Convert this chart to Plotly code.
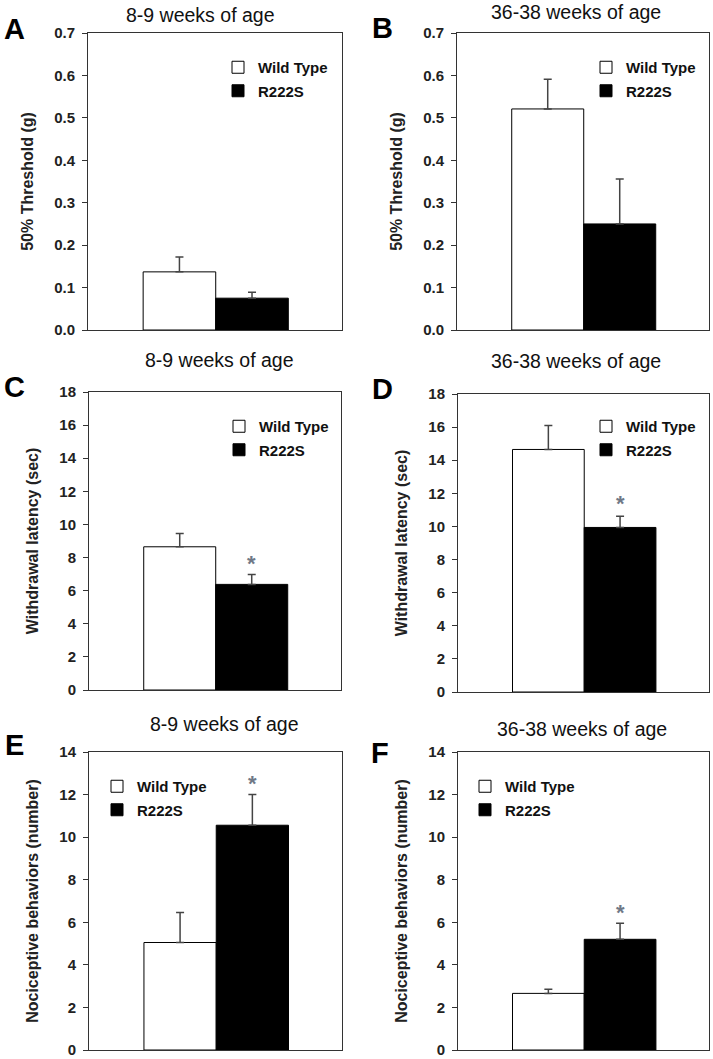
import plotly.graph_objects as go

W, H = 713, 1059
FONT = "Arial, Liberation Sans, sans-serif"

# ---- data ----
groups = ["Wild Type", "R222S"]
panel_letters = ["A", "B", "C", "D", "E", "F"]
titles = ["8-9 weeks of age", "36-38 weeks of age",
          "8-9 weeks of age", "36-38 weeks of age",
          "8-9 weeks of age", "36-38 weeks of age"]
ylabels = ["50% Threshold (g)", "50% Threshold (g)",
           "Withdrawal latency (sec)", "Withdrawal latency (sec)",
           "Nociceptive behaviors (number)", "Nociceptive behaviors (number)"]
wt_mean = [0.137, 0.521, 8.65, 14.65, 5.05, 2.66]
wt_sem = [0.035, 0.070, 0.81, 1.45, 1.41, 0.19]
mut_mean = [0.075, 0.250, 6.38, 9.94, 10.56, 5.20]
mut_sem = [0.014, 0.106, 0.60, 0.68, 1.44, 0.75]
y_max = [0.7, 0.7, 18, 18, 14, 14]
y_dtick = [0.1, 0.1, 2, 2, 2, 2]
y_format = [".1f", ".1f", "d", "d", "d", "d"]
star_y = [None, None, 7.9, 11.6, 12.7, 6.65]

# ---- layout geometry (window pixels) ----
plot_px = [(88, 342, 33, 330), (457, 709, 33, 330),
           (89, 341, 392, 690), (458, 709, 394, 692),
           (89, 342, 752, 1050), (458, 709, 752, 1050)]
legend_px = [(232, 68), (600, 68), (233, 427), (600, 427), (111, 787), (479, 787)]
title_px = [(200, 15), (576, 12), (219, 360), (576, 361), (224, 724), (582, 729)]
letter_px = [(14, 32), (382, 31), (14, 390), (383, 392), (14, 748), (380, 756)]

def px_x(v):
    return v / W

def px_y(v):
    return 1 - v / H

fig = go.Figure()
annotations = []
layout = {}

for i in range(6):
    n = "" if i == 0 else str(i + 1)
    xa, ya = "x" + n, "y" + n
    leg = "legend" + n
    x0, x1, y0, y1 = plot_px[i]
    fig.add_trace(go.Bar(
        x=[0], y=[wt_mean[i]], width=1, name=groups[0],
        marker=dict(color="white", line=dict(color="black", width=1)),
        error_y=dict(type="data", symmetric=False, array=[wt_sem[i]], arrayminus=[0],
                     color="#444444", thickness=1.5, width=4),
        xaxis=xa, yaxis=ya, legend=leg, legendgroup="wt" + n, showlegend=True))
    fig.add_trace(go.Bar(
        x=[1], y=[mut_mean[i]], width=1, name=groups[1],
        marker=dict(color="black", line=dict(color="black", width=1)),
        error_y=dict(type="data", symmetric=False, array=[mut_sem[i]], arrayminus=[0],
                     color="#444444", thickness=1.5, width=4),
        xaxis=xa, yaxis=ya, legend=leg, legendgroup="mut" + n, showlegend=True))

    layout["xaxis" + n] = dict(
        domain=[px_x(x0), px_x(x1)], anchor=ya, range=[-1.26, 2.24],
        showticklabels=False, ticks="", showgrid=False, zeroline=False, automargin=False,
        showline=True, linecolor="#333333", linewidth=1, mirror=True, fixedrange=True)
    layout["yaxis" + n] = dict(
        domain=[px_y(y1), px_y(y0)], anchor=xa, range=[0, y_max[i]], automargin=False,
        dtick=y_dtick[i], tick0=0, tickformat=y_format[i],
        ticks="outside", ticklen=5, tickcolor="#333333", tickwidth=1,
        ticklabelstandoff=4, fixedrange=True,
        showgrid=False, zeroline=False, showline=True, linecolor="#333333",
        linewidth=1, mirror=True,
        tickfont=dict(family=FONT, size=15, color="#222222", weight="bold"),
        title=dict(text="<b>" + ylabels[i] + "</b>", standoff=16,
                   font=dict(family=FONT, size=16, color="#222222")))
    lx, ly = legend_px[i]
    layout[leg] = dict(
        x=px_x(lx - 14), y=px_y(ly - 17), xanchor="left", yanchor="top",
        bgcolor="rgba(0,0,0,0)", borderwidth=0, traceorder="grouped",
        tracegroupgap=1, itemclick=False, itemdoubleclick=False,
        font=dict(family=FONT, size=15, color="#111111", weight="bold"))

    tx, ty = title_px[i]
    annotations.append(dict(
        xref="paper", yref="paper", x=px_x(tx), y=px_y(ty), text=titles[i],
        showarrow=False, xanchor="center", yanchor="middle",
        font=dict(family=FONT, size=19.5, color="#111111")))
    lx2, ly2 = letter_px[i]
    annotations.append(dict(
        xref="paper", yref="paper", x=px_x(lx2), y=px_y(ly2), text="<b>" + panel_letters[i] + "</b>",
        showarrow=False, xanchor="center", yanchor="middle", yshift=3,
        font=dict(family=FONT, size=29, color="#000000")))
    if star_y[i] is not None:
        annotations.append(dict(
            xref=xa, yref=ya, x=1, y=star_y[i], text="*", showarrow=False,
            xanchor="center", yanchor="middle", yshift=-4,
            font=dict(family=FONT, size=22, color="#6f7887", weight="bold")))

fig.update_layout(
    width=W, height=H, margin=dict(l=0, r=0, t=0, b=0, autoexpand=False),
    paper_bgcolor="white", plot_bgcolor="white",
    barmode="overlay", annotations=annotations, hovermode=False,
    font=dict(family=FONT), **layout)

# remove the browser's default 8px body margin so the figure fills the window exactly
fig.write_html("out.html", config={"displayModeBar": False},
               post_script="document.body.style.margin='0';")
